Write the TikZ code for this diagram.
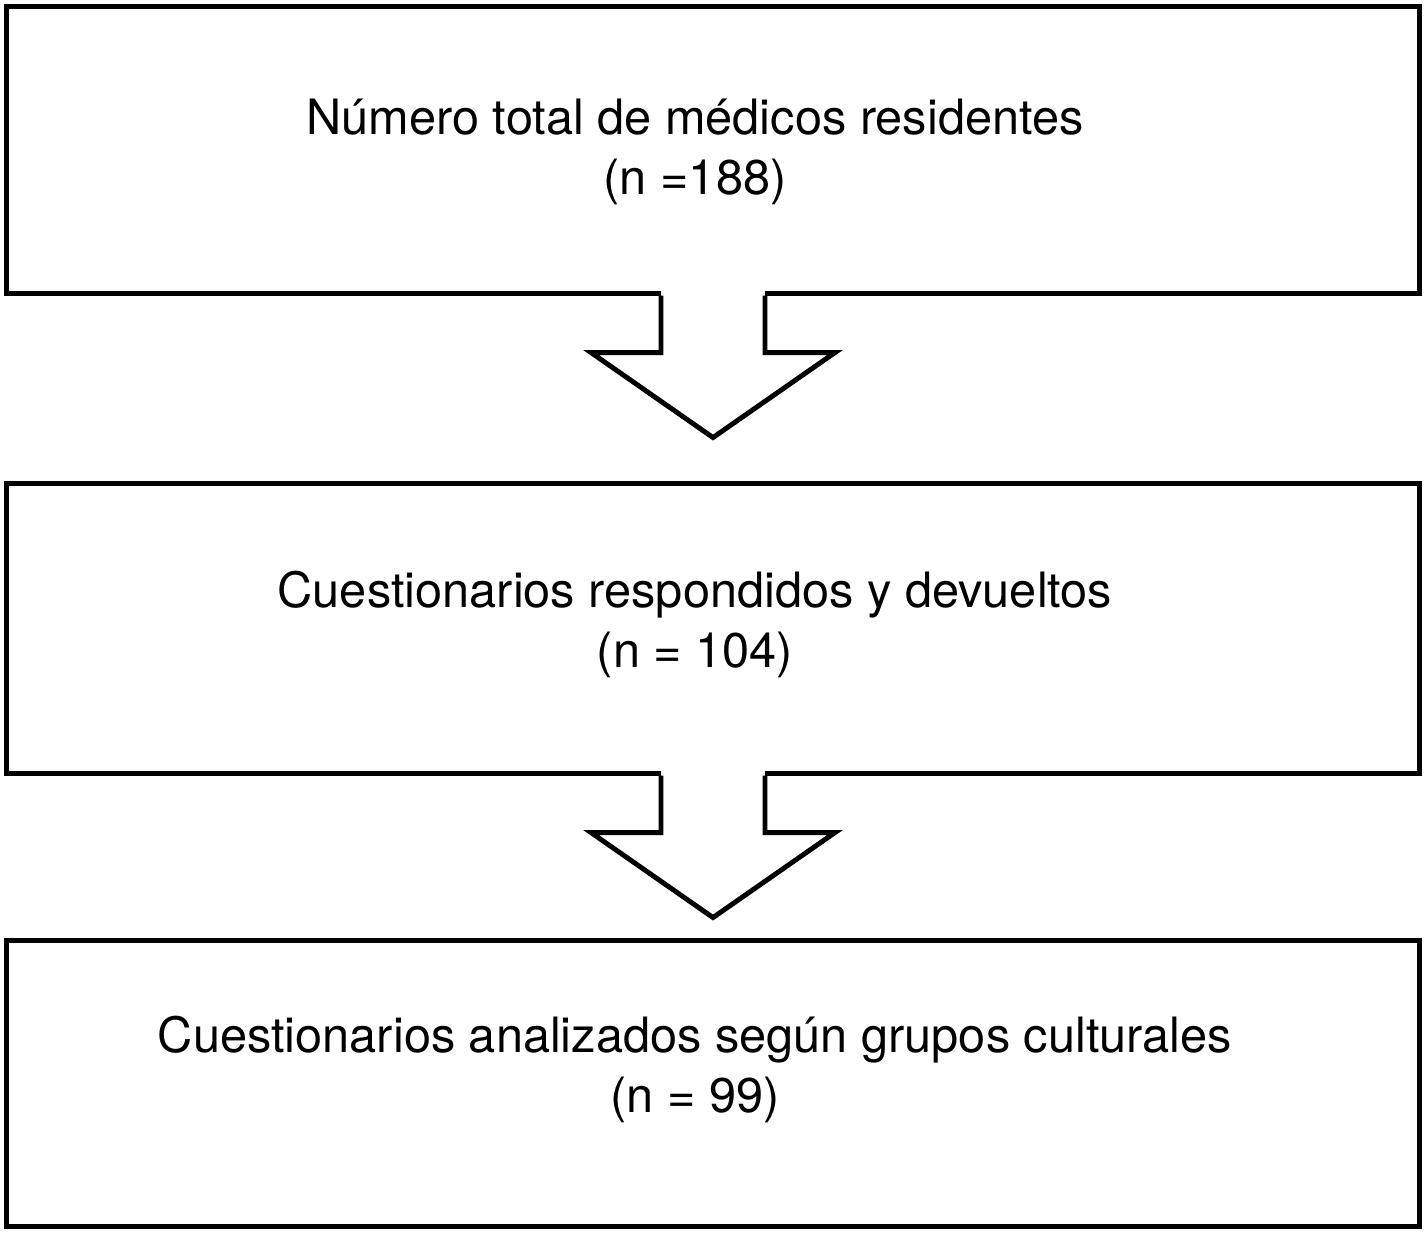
\documentclass[tikz,border=0pt]{standalone}
\usepackage{fontspec}
\setmainfont{TeX Gyre Heros}
\usetikzlibrary{positioning, calc}

\begin{document}
\begin{tikzpicture}[x=0.01cm, y=-0.01cm, line join=miter,
	box/.style={draw, line width=1.4pt, minimum width=14.12cm, inner sep=0pt},
	txt/.style={align=center, inner sep=0pt, font=\fontsize{13.85}{17.1}\selectfont},
	downarrow/.style={draw, line width=1.4pt}]
				\useasboundingbox (0,0) rectangle (1425,1234);
				% the three boxes
				\node[box, minimum height=2.86cm] (total) at (713,150) {};
				\node[box, minimum height=2.89cm] (devueltos) at (713,628.5) {};
				\node[box, minimum height=2.85cm] (analizados) at (713,1083.5) {};
				\node[txt] (totaltxt) at ($(total.center)+(-18,2)$) {Número total de médicos residentes\\(n =188)};
				\node[txt] (devueltostxt) at ($(devueltos.center)+(-18,-4)$) {Cuestionarios respondidos y devueltos\\(n = 104)};
				\node[txt] (analizadostxt) at ($(analizados.center)+(-18,-14)$) {Cuestionarios analizados según grupos culturales\\(n = 99)};
				% block arrows
				\fill[white] ($(total.south)+(-52,-7)$) rectangle ($(total.south)+(52,4)$);
				\draw[downarrow] ($(total.south)+(-52,0)$) -- ++(0,57) -- ++(-70,0) -- ($(total.south)+(0,142)$) -- ++(122,-85) -- ++(-70,0) -- ++(0,-57);
				\fill[white] ($(devueltos.south)+(-52,-7)$) rectangle ($(devueltos.south)+(52,4)$);
				\draw[downarrow] ($(devueltos.south)+(-52,0)$) -- ++(0,57) -- ++(-70,0) -- ($(devueltos.south)+(0,142)$) -- ++(122,-85) -- ++(-70,0) -- ++(0,-57);
			\end{tikzpicture}
\end{document}
